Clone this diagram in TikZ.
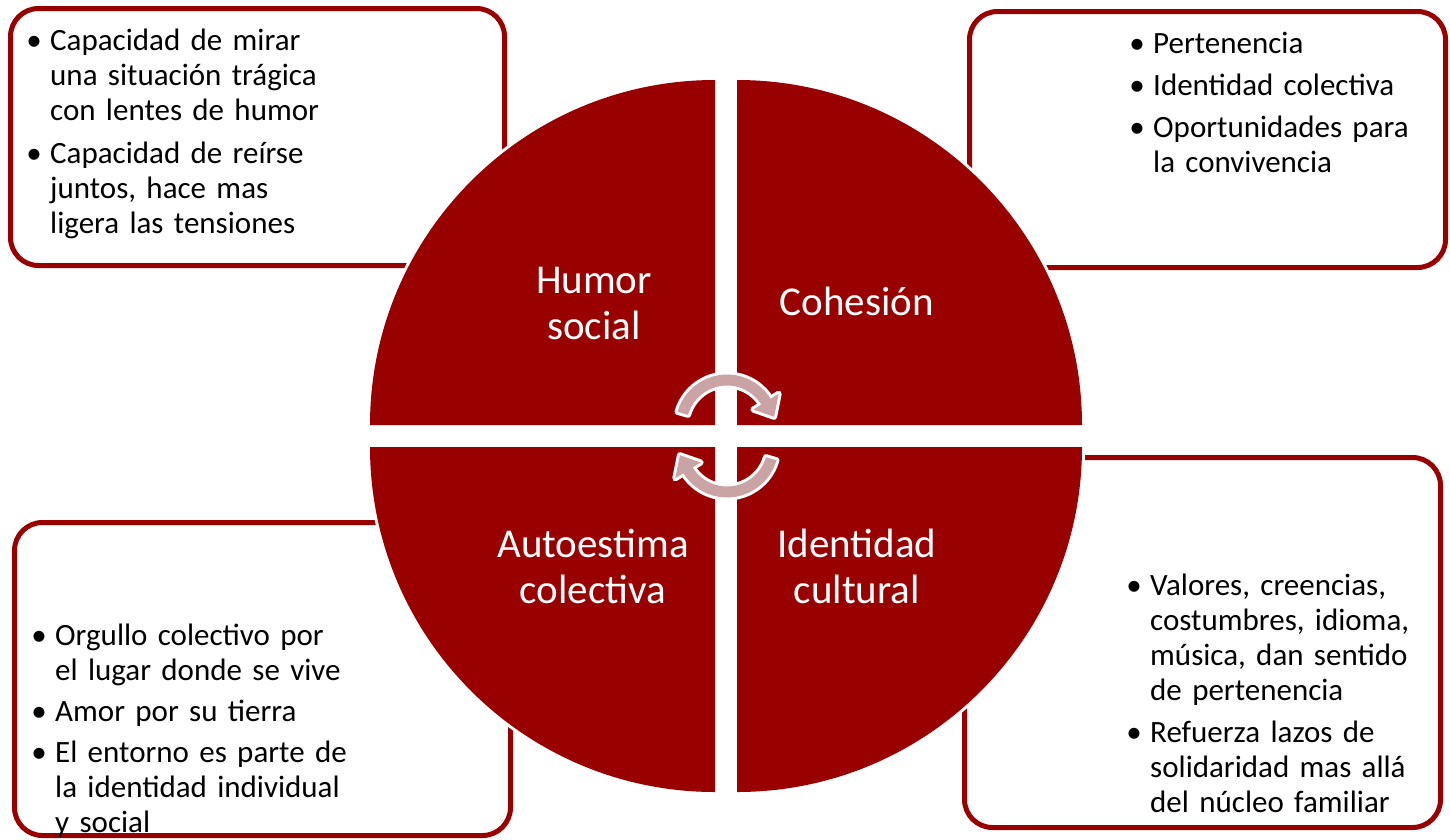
\documentclass[tikz,border=0pt]{standalone}
\usepackage{fontspec}
\setmainfont{Carlito}
\usetikzlibrary{calc}
\definecolor{qred}{HTML}{990000}
\definecolor{apink}{HTML}{CAA3A4}
\newcommand\bul{\leavevmode\llap{\makebox[32pt][c]{\textbullet}}}
\begin{document}
\begin{tikzpicture}[x=1pt,y=-1pt,
  box/.style={draw=qred, line width=5pt, fill=white, rounded corners=28pt},
  quad/.style={fill=qred, preaction={draw=white, line width=6pt}},
  cyc/.style={fill=apink, preaction={draw=white, line width=6pt, line join=round}},
  btext/.style={anchor=base west, align=left, inner sep=0pt, text width=340pt,
    font=\fontsize{31}{35}\selectfont},
  qlabel/.style={anchor=base, align=center, inner sep=0pt, text width=240pt,
    text=white, font=\fontsize{41}{46.5}\selectfont}]
\useasboundingbox (0,0) rectangle (1450,839);
% boxes
\draw[box] (10.5,8.5) rectangle (504.5,265.5);
\draw[box] (969.5,11.5) rectangle (1445.5,267.5);
\draw[box] (14.5,522.5) rectangle (510.5,835.5);
\draw[box] (964.5,457.5) rectangle (1440.5,827.5);
% quadrants
\path[quad] (715,425) -- (370,425) arc[start angle=180, end angle=270, radius=345] -- cycle;
\path[quad] (737,425) -- (737,80) arc[start angle=270, end angle=360, radius=345] -- cycle;
\path[quad] (737,447) -- (1082,447) arc[start angle=0, end angle=90, radius=345] -- cycle;
\path[quad] (715,447) -- (715,792) arc[start angle=90, end angle=180, radius=345] -- cycle;
% labels
\node[qlabel] (humor) at (594,293) {Humor\\social};
\node[qlabel] (cohesion) at (857,315) {Cohesión};
\node[qlabel] (autoestima) at (593,557) {Autoestima\\colectiva};
\node[qlabel] (identidad) at (857,557) {Identidad\\cultural};
% cycle arrows
\coordinate (c1) at (727,426);
\coordinate (c2) at (727,446);
\path[cyc] ($(c1)+(196:51.5)$) arc[start angle=196, end angle=328, radius=51.5]
  -- ($(c1)+(328:61)$) -- ($(c1)+(349:48)$) -- ($(c1)+(328:31)$)
  -- ($(c1)+(328:40.5)$) arc[start angle=328, end angle=196, radius=40.5] -- cycle;
\path[cyc] ($(c2)+(16:51.5)$) arc[start angle=16, end angle=148, radius=51.5]
  -- ($(c2)+(148:61)$) -- ($(c2)+(169:48)$) -- ($(c2)+(148:31)$)
  -- ($(c2)+(148:40.5)$) arc[start angle=148, end angle=16, radius=40.5] -- cycle;
% texts
\node[btext] (tltext) at (50,50) {\bul Capacidad de mirar\\una situación trágica\\con lentes de humor\\[8pt]\bul Capacidad de reírse\\juntos, hace mas\\ligera las tensiones};
\node[btext] (trtext) at (1153,53) {\bul Pertenencia\\[7pt]\bul Identidad colectiva\\[7pt]\bul Oportunidades para\\la convivencia};
\node[btext] (bltext) at (55,645) {\bul Orgullo colectivo por\\el lugar donde se vive\\[6pt]\bul Amor por su tierra\\[6pt]\bul El entorno es parte de\\la identidad individual\\y social};
\node[btext] (brtext) at (1150,595) {\bul Valores, creencias,\\costumbres, idioma,\\música, dan sentido\\de pertenencia\\[7pt]\bul Refuerza lazos de\\solidaridad mas allá\\del núcleo familiar};
\end{tikzpicture}
\end{document}
